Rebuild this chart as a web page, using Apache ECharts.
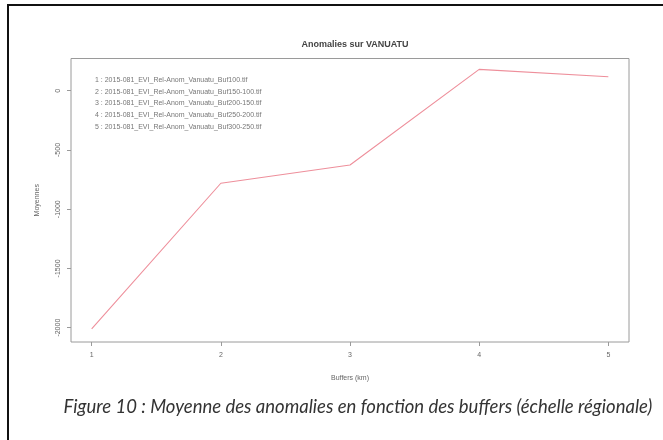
<!DOCTYPE html>
<html><head><meta charset="utf-8">
<script src="https://cdn.jsdelivr.net/npm/echarts@6/dist/echarts.min.js"></script>
<style>html,body{margin:0;padding:0;background:#fff}#c{width:663px;height:440px}</style>
</head><body><div id="c"></div>
<script>
const buffers = [1, 2, 3, 4, 5];
const moyennes = [-2011, -781, -627, 180, 118];
const xTicks = [1, 2, 3, 4, 5];
const yTicks = [0, -500, -1000, -1500, -2000];
const legendLines = [
  "1 : 2015-081_EVI_Rel-Anom_Vanuatu_Buf100.tif",
  "2 : 2015-081_EVI_Rel-Anom_Vanuatu_Buf150-100.tif",
  "3 : 2015-081_EVI_Rel-Anom_Vanuatu_Buf200-150.tif",
  "4 : 2015-081_EVI_Rel-Anom_Vanuatu_Buf250-200.tif",
  "5 : 2015-081_EVI_Rel-Anom_Vanuatu_Buf300-250.tif"
];
const chartTitle = "Anomalies sur VANUATU";
const xTitle = "Buffers (km)";
const yTitle = "Moyennes";
const caption = "Figure 10 : Moyenne des anomalies en fonction des buffers (échelle régionale)";

const chart = echarts.init(document.getElementById('c'), null, {renderer: 'canvas'});
const gray = '#9a9a9a';
const txt = '#666';
const graphics = [
  {type: 'rect', shape: {x: 7, y: 4, width: 700, height: 2}, style: {fill: '#111'}, silent: true},
  {type: 'rect', shape: {x: 7, y: 4, width: 2, height: 500}, style: {fill: '#111'}, silent: true},
  {type: 'text', x: 358, y: 407, style: {text: caption, font: 'italic 18.5px Lato, "Open Sans", sans-serif', fill: '#333', textAlign: 'center', textVerticalAlign: 'middle'}}
];
legendLines.forEach((t, i) => {
  graphics.push({type: 'text', x: 95, y: 80 + i * 11.7, style: {text: t, font: '7px "Liberation Sans", sans-serif', fill: '#777', textAlign: 'left', textVerticalAlign: 'middle'}});
});
chart.setOption({
  animation: false,
  backgroundColor: '#fff',
  title: {text: chartTitle, left: 350, top: 35, textAlign: 'center', textStyle: {fontSize: 9, fontWeight: 'bold', color: '#444', fontFamily: 'Liberation Sans'}},
  grid: {left: 71, right: 34, top: 58.5, bottom: 98, show: true, borderColor: gray, borderWidth: 1, backgroundColor: 'transparent'},
  xAxis: {
    type: 'value', min: 0.84, max: 5.16,
    name: xTitle, nameLocation: 'middle', nameGap: 33,
    nameTextStyle: {fontSize: 7, color: txt, fontFamily: 'Liberation Sans'},
    axisLine: {show: false, onZero: false},
    axisTick: {show: true, length: 4, inside: false, customValues: xTicks, lineStyle: {color: gray}},
    axisLabel: {customValues: xTicks, fontSize: 7, color: txt, margin: 10, fontFamily: 'Liberation Sans'},
    splitLine: {show: false}
  },
  yAxis: {
    type: 'value', min: -2121, max: 272,
    name: yTitle, nameLocation: 'middle', nameGap: 30, nameRotate: 90,
    nameTextStyle: {fontSize: 7, color: txt, fontFamily: 'Liberation Sans'},
    axisLine: {show: false, onZero: false},
    axisTick: {show: true, length: 4, inside: false, customValues: yTicks, lineStyle: {color: gray}},
    axisLabel: {customValues: yTicks, formatter: v => String(v), fontSize: 7, color: txt, margin: 9, rotate: 90, fontFamily: 'Liberation Sans'},
    splitLine: {show: false}
  },
  series: [{
    type: 'line',
    data: buffers.map((b, i) => [b, moyennes[i]]),
    showSymbol: false,
    lineStyle: {color: '#ee8f9b', width: 1.1},
    itemStyle: {color: '#ee8f9b'}
  }],
  graphic: graphics
});
</script></body></html>
